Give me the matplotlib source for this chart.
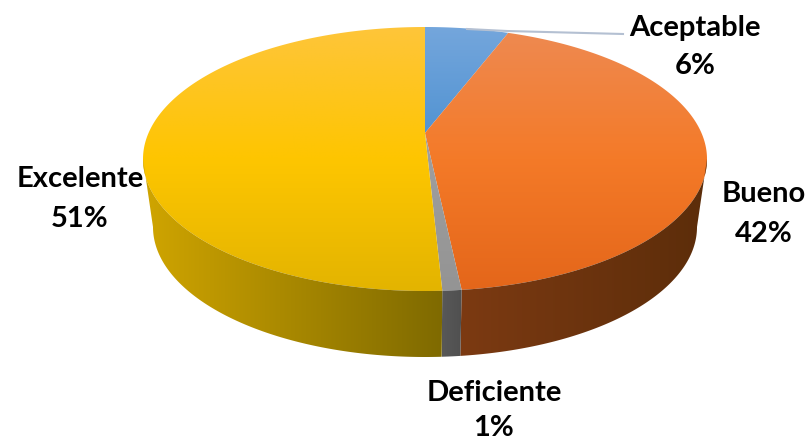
#!/usr/bin/env python3

import numpy as np
import matplotlib
matplotlib.use('Agg')
import matplotlib.pyplot as plt
from matplotlib.colors import LinearSegmentedColormap
from matplotlib.patches import Polygon

plt.rcParams['font.family'] = ['Lato', 'DejaVu Sans']

# clockwise from 12 o'clock
categories = ['Aceptable', 'Bueno', 'Deficiente', 'Excelente']
values = [5.8, 42.5, 0.9, 50.8]
pct_labels = ['6%', '42%', '1%', '51%']

top_colors = [['#74a6dc', '#4a8fd0', '#2a70b4'],
              ['#ee8a52', '#f47a28', '#e4661a'],
              ['#a8a8a8', '#949494'],
              ['#fec53a', '#fec600', '#e3b400']]
side_colors = [['#3a6a98', '#3a6a98'],
               ['#7c3a12', '#5c2d0a'],
               ['#585858', '#505050'],
               ['#d0a500', '#7f6a00']]

# pie geometry in pixels
cx = 425
top_y, apex_y, bot_y = 27, 133, 291
half_w = 282
low_half_w = 272
low_cy = 227
low_b = 130

C = (top_y + bot_y - 2 * apex_y) / (bot_y - top_y)
A = top_y * (1 + C) - apex_y
D = half_w * np.sqrt(1 - C ** 2)
cy = (top_y + bot_y) / 2
b = (bot_y - top_y) / 2


def project(theta):
    # perspective view of the flat disc
    u, v = np.sin(theta), np.cos(theta)
    w = 1 + C * v
    return cx + D * u / w, (A * v + apex_y) / w


def lower(x, y):
    return cx + (x - cx) * low_half_w / half_w, low_cy + (y - cy) * low_b / b


def gradient(ax, pts, cols, vertical=True):
    xs, ys = pts[:, 0], pts[:, 1]
    cmap = LinearSegmentedColormap.from_list('g', cols)
    if vertical:
        x0, x1, y0, y1 = xs.min(), xs.max(), top_y, bot_y
        grad = np.linspace(0, 1, 256).reshape(-1, 1)
    else:
        x0, x1, y0, y1 = xs.min(), xs.max(), ys.min(), ys.max()
        grad = np.linspace(0, 1, 256).reshape(1, -1)
    im = ax.imshow(grad, cmap=cmap, extent=[x0, x1, y1, y0], aspect='auto', origin='upper', zorder=2)
    patch = Polygon(pts, closed=True, transform=ax.transData, facecolor='none', edgecolor='none')
    ax.add_patch(patch)
    im.set_clip_path(patch)


fig = plt.figure(figsize=(8.09, 4.42), dpi=100)
ax = fig.add_axes([0, 0, 1, 1])

edges = np.cumsum([0] + values) / sum(values) * 2 * np.pi
vis0 = np.arccos(-C)
vis1 = 2 * np.pi - vis0

for i in range(len(values)):
    t = np.linspace(edges[i], edges[i + 1], 200)
    x, y = project(t)
    pts = np.column_stack([np.r_[cx, x], np.r_[apex_y, y]])
    gradient(ax, pts, top_colors[i])

    t0, t1 = max(edges[i], vis0), min(edges[i + 1], vis1)
    if t1 > t0:
        t = np.linspace(t0, t1, 200)
        x, y = project(t)
        lx, ly = lower(x, y)
        side = np.column_stack([np.r_[x, lx[::-1]], np.r_[y, ly[::-1]]])
        gradient(ax, side, side_colors[i], vertical=False)

# leader line for the top label
ax.plot([467, 507, 623], [29, 31, 34], color='#b4c0d2', lw=1.5, zorder=3)

label_pos = [(695, 28, 66), (764, 194, 234), (494, 393, 428), (80, 179, 219)]
for name, pct, (lx, y1, y2) in zip(categories, pct_labels, label_pos):
    ax.text(lx, y1, name, ha='center', va='center', fontsize=21, fontweight='bold', color='black', zorder=4)
    ax.text(lx, y2, pct, ha='center', va='center', fontsize=21, fontweight='bold', color='black', zorder=4)

ax.set_xlim(0, 809)
ax.set_ylim(442, 0)
ax.axis('off')
fig.savefig('out.png', dpi=100)
